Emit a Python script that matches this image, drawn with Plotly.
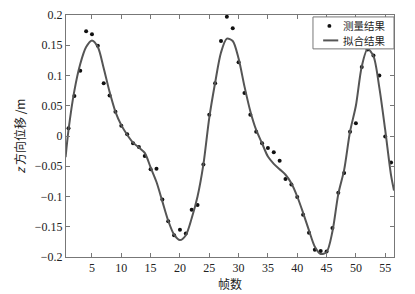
import plotly.graph_objects as go

# measured points
meas_x = list(range(1, 57))
meas_y = [0.013, 0.066, 0.108, 0.173, 0.168, 0.149, 0.087, 0.067, 0.040, 0.017,
          0.003, -0.012, -0.018, -0.033, -0.055, -0.054, -0.105, -0.141, -0.164, -0.155,
          -0.161, -0.122, -0.114, -0.047, 0.035, 0.087, 0.157, 0.197, 0.178, 0.122,
          0.071, 0.035, 0.007, -0.012, -0.020, -0.027, -0.041, -0.071, -0.080, -0.101,
          -0.130, -0.160, -0.188, -0.190, -0.191, -0.152, -0.094, -0.061, 0.007, 0.021,
          0.114, 0.143, 0.133, 0.100, -0.001, -0.044]

# fitted curve
fit_x = [0.5] + list(range(1, 57)) + [56.5]
fit_y = [-0.035, 0.010, 0.075, 0.119, 0.147, 0.158, 0.147, 0.112, 0.073, 0.040,
         0.018, 0.002, -0.011, -0.019, -0.028, -0.052, -0.076, -0.108, -0.140, -0.163,
         -0.172, -0.164, -0.136, -0.100, -0.047, 0.030, 0.088, 0.138, 0.161, 0.157,
         0.128, 0.082, 0.041, 0.010, -0.012, -0.034, -0.046, -0.055, -0.064, -0.078,
         -0.100, -0.127, -0.156, -0.183, -0.195, -0.192, -0.158, -0.096, -0.056, 0.007,
         0.050, 0.115, 0.144, 0.132, 0.080, 0.010, -0.065, -0.090]

x_ticks = [5, 10, 15, 20, 25, 30, 35, 40, 45, 50, 55]
y_ticks = [-0.2, -0.15, -0.1, -0.05, 0, 0.05, 0.1, 0.15, 0.2]
y_tick_text = ["\u22120.2", "\u22120.15", "\u22120.1", "\u22120.05", "0", "0.05", "0.1", "0.15", "0.2"]

legend_labels = ["测量结果", "拟合结果"]

serif = "Liberation Serif"
cjk = "Noto Sans CJK SC"
dot_color = "#111111"
line_color = "#555555"
frame_color = "#777777"

fig = go.Figure()
fig.add_trace(go.Scatter(x=meas_x, y=meas_y, mode="markers", name=legend_labels[0],
                         marker=dict(color=dot_color, size=4), showlegend=False))
fig.add_trace(go.Scatter(x=fit_x, y=fit_y, mode="lines", name=legend_labels[1],
                         line=dict(color=line_color, width=2, shape="spline", smoothing=0.8),
                         showlegend=False))

axis_common = dict(showline=True, linecolor=frame_color, linewidth=1, mirror="ticks",
                   ticks="inside", ticklen=4, tickcolor=frame_color, showgrid=False,
                   zeroline=False, tickfont=dict(family=serif, size=12, color="#222222"))

# custom compact legend (paper coordinates)
row_y = [0.955, 0.895]
shapes = [
    dict(type="rect", xref="paper", yref="paper", x0=0.753, x1=1.0, y0=0.860, y1=0.992,
         line=dict(color=frame_color, width=1), fillcolor="white", layer="above"),
    dict(type="circle", xref="paper", yref="paper", x0=0.797, x1=0.809,
         y0=row_y[0] - 0.008, y1=row_y[0] + 0.008,
         line=dict(width=0), fillcolor=dot_color, layer="above"),
    dict(type="line", xref="paper", yref="paper", x0=0.784, x1=0.830,
         y0=row_y[1], y1=row_y[1],
         line=dict(color=line_color, width=2), layer="above"),
]
annotations = [
    dict(text=lab, xref="paper", yref="paper", x=0.840, y=yy,
         xanchor="left", yanchor="middle", showarrow=False, borderpad=0,
         font=dict(family=cjk, size=10.5, color="#222222"))
    for lab, yy in zip(legend_labels, row_y)
]

fig.update_layout(
    width=415, height=294,
    margin=dict(l=66, r=21, t=8, b=29),
    paper_bgcolor="white", plot_bgcolor="white",
    showlegend=False,
    shapes=shapes,
    annotations=annotations,
    xaxis=dict(range=[0.57, 56.5], tickvals=x_ticks,
               title=dict(text="帧数", font=dict(family=cjk, size=12, color="#222222"), standoff=2),
               **axis_common),
    yaxis=dict(range=[-0.2, 0.2], tickvals=y_ticks, ticktext=y_tick_text,
               title=dict(text="<i>z</i> 方向位移 /m", font=dict(family=cjk, size=12, color="#222222"), standoff=6),
               **axis_common),
)

fig.write_html("out.html")
